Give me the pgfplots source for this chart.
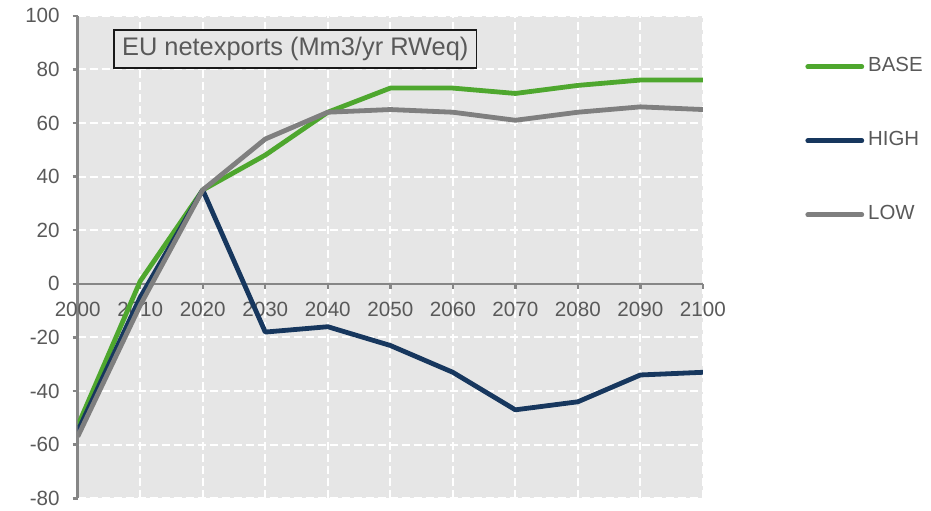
\documentclass[border=0pt]{standalone}
\usepackage{fontspec}
\setmainfont{Liberation Sans}
\usepackage{pgfplots}
\pgfplotsset{compat=1.18}

\definecolor{basegreen}{HTML}{4EA72E}
\definecolor{highblue}{HTML}{17375E}
\definecolor{lowgray}{HTML}{7F7F7F}
\definecolor{txtgray}{HTML}{595959}
\definecolor{axgray}{HTML}{868686}
\definecolor{bggray}{HTML}{E6E6E6}

\begin{document}
\begin{tikzpicture}
\useasboundingbox (-38.85pt,-5.85pt) rectangle (426.65pt,249.15pt);
\begin{axis}[
  at={(0,0)}, anchor=south west,
  scale only axis, width=312.6pt, height=241.3pt,
  xmin=2000, xmax=2100, ymin=-80, ymax=100,
  xtick={2000,2010,...,2100}, ytick={-80,-60,...,100},
  axis x line=middle, axis y line=left,
  hide obscured x ticks=false, hide obscured y ticks=false,
  axis line style={-, axgray, line width=1.2pt},
  tick style={axgray, line width=1.2pt},
  major tick length=2.5pt,
  tick align=outside,
  grid=major,
  major grid style={white, line width=1pt, dash pattern=on 4pt off 2pt},
  axis background/.style={fill=bggray},
  tick label style={font=\fontsize{10.3}{12}\selectfont, text=txtgray},
  yticklabel style={xshift=-3pt},
  xticklabel style={yshift=-3pt},
  /pgf/number format/assume math mode=true,
  /pgf/number format/1000 sep={},
  legend style={at={(1.1537,0.926)}, anchor=north west, draw=none, fill=none,
    font=\fontsize{10.2}{12}\selectfont, text=txtgray,
    row sep=27pt, column sep=2pt,
    nodes={inner sep=0pt, text height=8pt, text depth=2pt}},
  legend cell align=left,
  legend image code/.code={\draw[#1, line cap=round] (0pt,0.35em-4pt) -- (27pt,0.35em-4pt);},
]
% BASE
\addplot[basegreen, line width=2.4pt, line join=round] coordinates {
  (2000,-53) (2010,1) (2020,35) (2030,48) (2040,64) (2050,73)
  (2060,73) (2070,71) (2080,74) (2090,76) (2100,76)
};
\addlegendentry{BASE}
% HIGH
\addplot[highblue, line width=2.4pt, line join=round] coordinates {
  (2000,-55) (2010,-5) (2020,35) (2030,-18) (2040,-16) (2050,-23)
  (2060,-33) (2070,-47) (2080,-44) (2090,-34) (2100,-33)
};
\addlegendentry{HIGH}
% LOW
\addplot[lowgray, line width=2.4pt, line join=round] coordinates {
  (2000,-57) (2010,-8) (2020,35) (2030,54) (2040,64) (2050,65)
  (2060,64) (2070,61) (2080,64) (2090,66) (2100,65)
};
\addlegendentry{LOW}

\node[draw=black!90, line width=0.9pt, fill=bggray, text=txtgray,
  font=\fontsize{12.7}{14}\selectfont, inner xsep=4pt, inner ysep=0pt,
  minimum height=19pt] at (axis cs:2034.8,87.7) {EU netexports (Mm3/yr RWeq)};
\end{axis}
\end{tikzpicture}
\end{document}
